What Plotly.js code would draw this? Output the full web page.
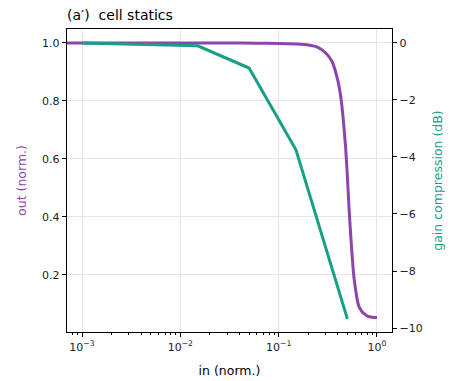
<!DOCTYPE html>
<html><head><meta charset="utf-8">
<script src="https://cdn.plot.ly/plotly-3.0.1.min.js"></script>
<style>body{margin:0;padding:0;background:#fff}#c{width:454px;height:381px}</style>
</head><body><div id="c"></div>
<script>
var inOut = [0.0006, 0.001, 0.003, 0.01, 0.03, 0.06, 0.1, 0.15, 0.2, 0.25, 0.3, 0.35, 0.4, 0.43, 0.45, 0.48, 0.5, 0.52, 0.55, 0.58, 0.6, 0.63, 0.65, 0.7, 0.75, 0.8, 0.9, 1.0];
var outNorm = [1.0, 1.0, 1.0, 1.0, 1.0, 0.999, 0.998, 0.996, 0.993, 0.985, 0.966, 0.935, 0.87, 0.81, 0.75, 0.64, 0.54, 0.43, 0.30, 0.20, 0.16, 0.115, 0.095, 0.075, 0.065, 0.058, 0.054, 0.053];
var inGain = [0.001, 0.015, 0.05, 0.15, 0.5];
var gainDb = [0.0, -0.1, -0.88, -3.75, -9.68];
var purple = '#8e44ad', green = '#17a085';
var tickFont = {family: 'DejaVu Sans', size: 11, color: '#222'};
Plotly.newPlot('c', [
  {x: inOut, y: outNorm, type: 'scatter', mode: 'lines', line: {color: purple, width: 3, shape: 'spline', smoothing: 0.6}, yaxis: 'y', hoverinfo: 'none'},
  {x: inGain, y: gainDb, type: 'scatter', mode: 'lines', line: {color: green, width: 3}, yaxis: 'y2', hoverinfo: 'none'}
], {
  width: 454, height: 381, showlegend: false,
  margin: {l: 67, r: 62, t: 29, b: 49},
  paper_bgcolor: '#fff', plot_bgcolor: '#fff',
  font: {family: 'DejaVu Sans', color: '#222'},
  title: {text: '(a′)  cell statics', x: 0, xanchor: 'left', xref: 'paper', y: 1, yref: 'container', yanchor: 'top', pad: {t: 10}, font: {family: 'DejaVu Sans', size: 14, color: '#000'}},
  xaxis: {type: 'log', range: [-3.153, 0.153], showline: true, linecolor: '#000', linewidth: 1.3, mirror: true,
    ticks: 'outside', ticklen: 4, tickcolor: '#000', tickfont: tickFont, exponentformat: 'power', dtick: 1,
    tickvals: [0.001, 0.01, 0.1, 1], ticktext: ['10<sup>−3</sup>', '10<sup>−2</sup>', '10<sup>−1</sup>', '10<sup>0</sup>'],
    minor: {ticks: 'outside', ticklen: 2, tickcolor: '#000', tickvals: [0.0008,0.0009,0.002,0.003,0.004,0.005,0.006,0.007,0.008,0.009,0.02,0.03,0.04,0.05,0.06,0.07,0.08,0.09,0.2,0.3,0.4,0.5,0.6,0.7,0.8,0.9], showgrid: false},
    showgrid: true, gridcolor: '#e6e6e6', zeroline: false,
    title: {text: 'in (norm.)', font: {family: 'DejaVu Sans', size: 12.5, color: '#000'}, standoff: 13}},
  yaxis: {range: [0.0034, 1.048], showline: true, linecolor: '#000', linewidth: 1.3,
    ticks: 'outside', ticklen: 4, tickcolor: '#000', tickfont: tickFont,
    tickvals: [0.2, 0.4, 0.6, 0.8, 1.0], ticktext: ['0.2', '0.4', '0.6', '0.8', '1.0'],
    showgrid: true, gridcolor: '#e6e6e6', zeroline: false,
    title: {text: 'out (norm.)', font: {family: 'DejaVu Sans', size: 12.5, color: purple}, standoff: 12}},
  yaxis2: {overlaying: 'y', side: 'right', range: [-10.14, 0.49], showline: true, linecolor: '#000', linewidth: 1.3,
    ticks: 'outside', ticklen: 4, tickcolor: '#000', tickfont: tickFont,
    tickvals: [0, -2, -4, -6, -8, -10], ticktext: ['0', '−2', '−4', '−6', '−8', '−10'],
    showgrid: false, zeroline: false,
    title: {text: 'gain compression (dB)', font: {family: 'DejaVu Sans', size: 12.5, color: green}, standoff: 11}}
}, {displayModeBar: false, staticPlot: true});
</script></body></html>
